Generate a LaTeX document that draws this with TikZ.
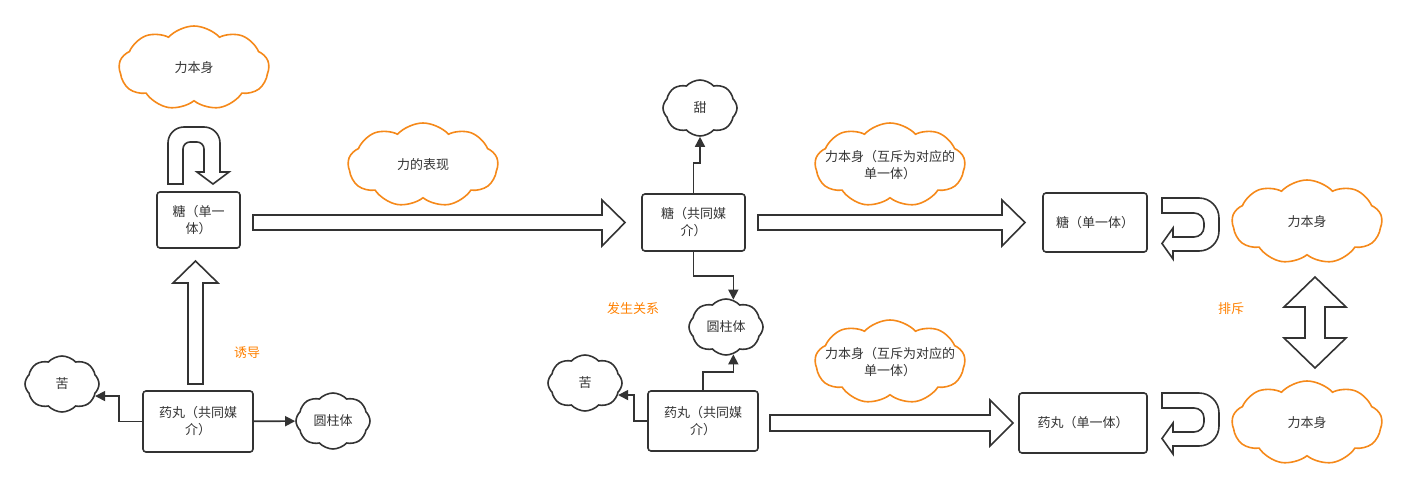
\documentclass[tikz,border=0pt]{standalone}
\usepackage{fontspec}
\newfontfamily\cjk{Noto Sans CJK SC}
\usetikzlibrary{arrows.meta, positioning, calc, shapes.symbols}
\definecolor{linegray}{HTML}{333333}
\definecolor{cloudorange}{HTML}{F5891A}
\definecolor{textorange}{HTML}{FF8000}

\begin{document}
\begin{tikzpicture}[x=1pt, y=-1pt, % pixel grid, y pointing down
		box/.style={rectangle, draw=linegray, line width=1.6pt, rounded corners=3pt, fill=white, align=center, text=linegray, font=\cjk\fontsize{13}{17}\selectfont, inner sep=0pt},
		ocloud/.style={cloud, cloud puffs=9, cloud puff arc=95, cloud ignores aspect, draw=cloudorange, line width=1.6pt, minimum width=150pt, minimum height=84pt, inner sep=0pt},
		bcloud/.style={cloud, cloud puffs=8, cloud puff arc=95, cloud ignores aspect, draw=linegray, line width=1.6pt, minimum width=74pt, minimum height=56pt, inner sep=0pt},
		ctext/.style={align=center, text=linegray, font=\cjk\fontsize{13}{17}\selectfont},
		note/.style={text=textorange, font=\cjk\fontsize{13}{17}\selectfont},
		conn/.style={draw=linegray, line width=1.6pt, -{Triangle[length=10pt,width=10pt]}},
		fat/.style={draw=linegray, line width=1.6pt, fill=white, line join=miter}
		]
		\useasboundingbox (0,0) rectangle (1408,490);
		
		% Left part: sugar as a single body
		\node[ocloud, label={[ctext]center:力本身}] (li1) at (194,68) {};
		\node[box, minimum width=83pt, minimum height=56pt] (tang1) at (198.5,220) {糖（单一\\体）};
		\draw[fat] (168,184) -- (168,143) arc[start angle=180, end angle=270, radius=16] -- (204,127) arc[start angle=270, end angle=360, radius=16] -- (220,172) -- (229,172) -- (213,184) -- (197,172) -- (204,172) -- (204,149) arc[start angle=0, end angle=-90, radius=7] -- (190,142) arc[start angle=270, end angle=180, radius=7] -- (183,184) -- cycle;
		
		\node[box, minimum width=110pt, minimum height=61pt] (yw1) at (198,421.5) {药丸（共同媒\\介）};
		\node[bcloud, label={[ctext]center:苦}] (ku1) at (62,384) {};
		\node[bcloud, label={[ctext]center:圆柱体}] (yz1) at (333,421) {};
		\draw[conn] (yw1.west) -- ++(-23,0) |- (ku1.-20);
		\draw[conn] (yw1) -- (yz1);
		\draw[fat] (188,384) -- (188,283) -- (173,283) -- (195.5,261) -- (218,283) -- (203,283) -- (203,384) -- cycle;
		\node[note] (youdao) at (247,353) {诱导};
		
		\node[ocloud, label={[ctext]center:力的表现}] (biao) at (423,165) {};
		\draw[fat] (253,215) -- (602,215) -- (602,200) -- (625,222.5) -- (602,246) -- (602,230) -- (253,230) -- cycle;
		
		% Middle part: both as common medium
		\node[box, minimum width=103pt, minimum height=57pt] (tang2) at (693.5,222.5) {糖（共同媒\\介）};
		\node[bcloud, label={[ctext]center:甜}] (tian) at (700,108) {};
		\node[bcloud, label={[ctext]center:圆柱体}] (yz2) at (726,327) {};
		\node[box, minimum width=110pt, minimum height=60pt] (yw2) at (703,421) {药丸（共同媒\\介）};
		\node[bcloud, label={[ctext]center:苦}] (ku2) at (585,383) {};
		\draw[conn] (tang2.north) -- ++(0,-30) -| (tian.south);
		\draw[conn] (tang2.south) -- ++(0,24) -| (yz2.75);
		\draw[conn] (yw2.north) -- ++(0,-18) -| (yz2.-75);
		\draw[conn] (yw2.west) -- ++(-13,0) |- (ku2.-20);
		\node[note] (fasheng) at (633,309) {发生关系};
		
		\node[ocloud, label={[ctext]center:{力本身（互斥为对应的\\单一体）}}] (hc1) at (890,165) {};
		\node[ocloud, label={[ctext]center:{力本身（互斥为对应的\\单一体）}}] (hc2) at (890,362) {};
		\draw[fat] (758,215) -- (1002,215) -- (1002,200) -- (1025,222.5) -- (1002,246) -- (1002,230) -- (758,230) -- cycle;
		\draw[fat] (770,415) -- (990,415) -- (990,400) -- (1013,423) -- (990,446) -- (990,431) -- (770,431) -- cycle;
		
		% Right part: each a single body again
		\node[box, minimum width=104pt, minimum height=59pt] (tang3) at (1095,222.5) {糖（单一体）};
		\node[box, minimum width=128pt, minimum height=60pt] (yw3) at (1083,423) {药丸（单一体）};
		\node[ocloud, label={[ctext]center:力本身}] (li2) at (1307,222) {};
		\node[ocloud, label={[ctext]center:力本身}] (li3) at (1307,423) {};
		\foreach \dy in {0,195}{
			\begin{scope}[shift={(0,\dy)}]
				\draw[fat] (1162,198) -- (1199,198) arc[start angle=270, end angle=360, radius=20] -- (1219,231) arc[start angle=0, end angle=90, radius=20] -- (1173,251) -- (1173,259) -- (1162,243.5) -- (1173,228) -- (1173,237) -- (1194,237) arc[start angle=90, end angle=0, radius=10] -- (1204,223) arc[start angle=0, end angle=-90, radius=10] -- (1162,213) -- cycle;
			\end{scope}
		}
		\draw[fat] (1305,307) -- (1284,307) -- (1315,277) -- (1346,307) -- (1325,307) -- (1325,338) -- (1346,338) -- (1315,368) -- (1284,338) -- (1305,338) -- cycle;
		\node[note] (paichi) at (1231,309) {排斥};
		
	\end{tikzpicture}
\end{document}
